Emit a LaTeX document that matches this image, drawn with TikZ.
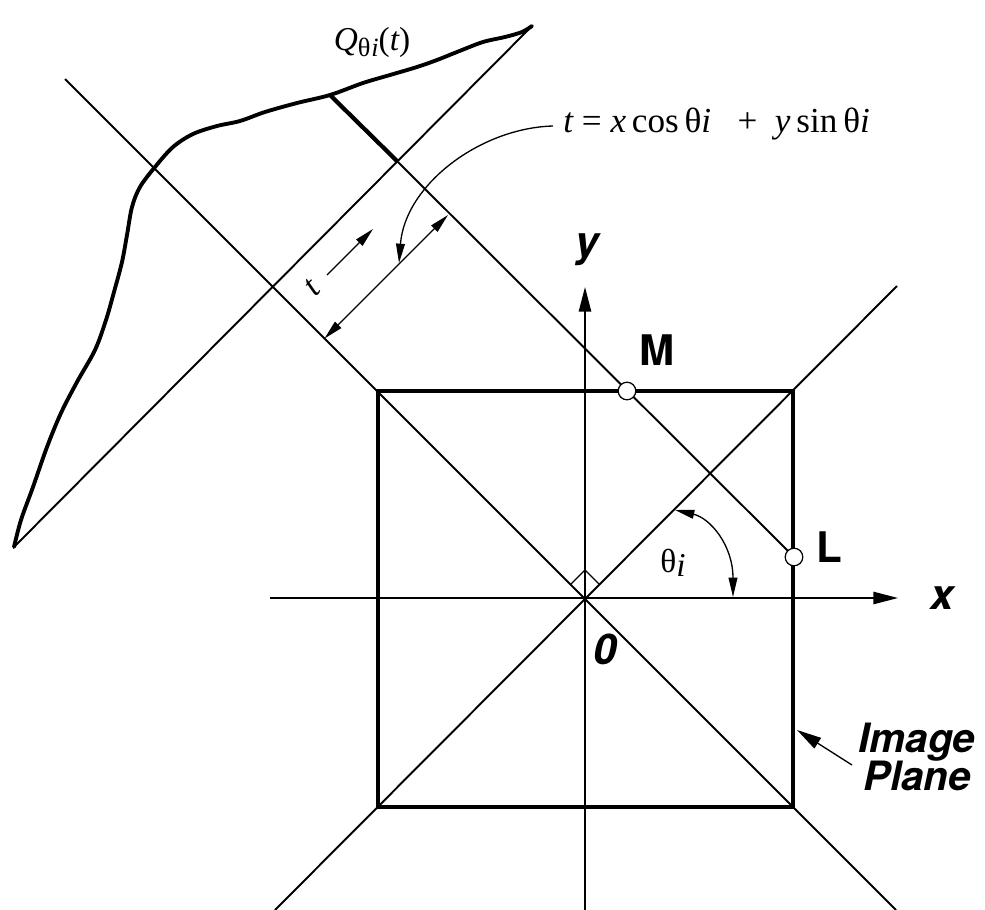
\documentclass[tikz,border=0pt]{standalone}
\usepackage{fontspec}
\setmainfont{Liberation Serif}
\newfontfamily\hv{TeX Gyre Heros}
\usetikzlibrary{arrows.meta}
\begin{document}
\begin{tikzpicture}[x=0.02cm,y=-0.02cm,
  thinline/.style={line width=1.1pt},
  axisline/.style={line width=0.9pt},
  fineline/.style={line width=0.75pt},
  thickline/.style={line width=2.4pt},
  curveline/.style={line width=2.2pt,line cap=round,line join=round},
  axistip/.style={-{Triangle[length=14pt,width=7pt]}},
  smalltip/.style={-{Triangle[length=11pt,width=5pt]}},
  bothtip/.style={{Triangle[length=11pt,width=5pt]}-{Triangle[length=11pt,width=5pt]}},
  boldlab/.style={font=\hv\bfseries\fontsize{24}{24}\selectfont,inner sep=0pt},
  bilab/.style={font=\hv\bfseries\itshape\fontsize{24}{24}\selectfont,inner sep=0pt},
  serlab/.style={font=\fontsize{19}{19}\selectfont,inner sep=0pt},
  dotmark/.style={circle,draw,fill=white,line width=0.7pt,inner sep=0pt,minimum size=10pt}]
\useasboundingbox (0,0) rectangle (985,910);
% key points
\coordinate (O) at (585,598);
\coordinate (xl) at (270,598);
\coordinate (xr) at (898,598);
\coordinate (yb) at (585,910);
\coordinate (yt) at (585,287);
\coordinate (d1a) at (65,79);
\coordinate (d1b) at (896,910);
\coordinate (d2a) at (897,286);
\coordinate (d2b) at (275,910);
\coordinate (ta) at (532,26);
\coordinate (tb) at (14,547);
\coordinate (qp) at (330,95);
\coordinate (tp) at (398,162);
\coordinate (Mp) at (627,391);
\coordinate (Lp) at (794,557);
\coordinate (dimA) at (324.5,338.5);
\coordinate (dimB) at (448,215);
\coordinate (tarA) at (327,275);
\coordinate (tarB) at (373,229);
\coordinate (fa) at (553,126);
\coordinate (fb) at (399,263);
\coordinate (aa) at (733,597);
\coordinate (ab) at (675,510);
\coordinate (ipA) at (852,765);
\coordinate (ipB) at (797,730);
% axes
\draw[axisline,axistip] (xl) -- (xr);
\draw[axisline,axistip] (yb) -- (yt);
% diagonals through origin
\draw[thinline] (d1a) -- (d1b);
\draw[thinline] (d2a) -- (d2b);
% image plane square
\draw[thickline] (378,391) rectangle (793,807);
% t axis of projection
\draw[thinline] (ta) -- (tb);
% projection ray
\draw[thinline] (tp) -- (Lp);
\draw[line width=2.4pt] (qp) -- (tp);
% projection curve
\draw[curveline] plot[smooth,tension=0.55] coordinates {
 (532,26) (522,32) (505,37) (483,42) (457,52) (437,60) (417,67) (390,75)
 (363,83) (330,95) (297,103) (265,112) (240,121) (217,126) (193,134)
 (173,147) (155,167) (140,187) (132,207) (127,235) (122,262) (114,292)
 (106,320) (95,350) (77,382) (61,413) (47,447) (33,487) (21,520) (14,547)};
% right-angle mark
\draw[fineline] (571,584) -- (585,570) -- (599,584);
% dimension arrow t
\draw[fineline,bothtip] (dimA) -- (dimB);
\draw[fineline,smalltip] (tarA) -- (tarB);
\node[serlab,rotate=45] (tlab) at (312,288) {\itshape t};
% curved arrow from formula
\draw[fineline,smalltip] (fa) .. controls (480,128) and (405,185) .. (fb);
\node[serlab,font=\fontsize{20}{20}\selectfont,anchor=base west] (formula) at (563,132)
  {{\itshape t} = {\itshape x}\,cos\,θ{\itshape i} \ \ + \ {\itshape y}\,sin\,θ{\itshape i}};
% Q label
\node[serlab] (qlab) at (372,42)
  {{\itshape Q}\raisebox{-0.45ex}{\fontsize{15}{15}\selectfont θ\kern0.5pt{\itshape i}}({\itshape t})};
% angle theta
\draw[fineline,bothtip] (aa) .. controls (733,545) and (710,518) .. (ab);
\node[serlab] (thlab) at (673,563) {θ\raisebox{-0.3ex}{\itshape i}};
% M and L points
\node[dotmark] (M) at (Mp) {};
\node[dotmark] (L) at (Lp) {};
\node[boldlab] (Mlab) at (657,350) {M};
\node[boldlab] (Llab) at (829,547) {L};
% axis labels
\node[bilab] (xlab) at (942,598) {x};
\node[bilab] (ylab) at (587,250) {y};
\node[bilab] (olab) at (605,649) {0};
% image plane label
\draw[fineline,axistip] (ipA) -- (ipB);
\node[font=\hv\bfseries\itshape\fontsize{23}{22}\selectfont,align=center,inner sep=0pt] (iplab) at (917,757) {Image\\Plane};
\end{tikzpicture}
\end{document}
